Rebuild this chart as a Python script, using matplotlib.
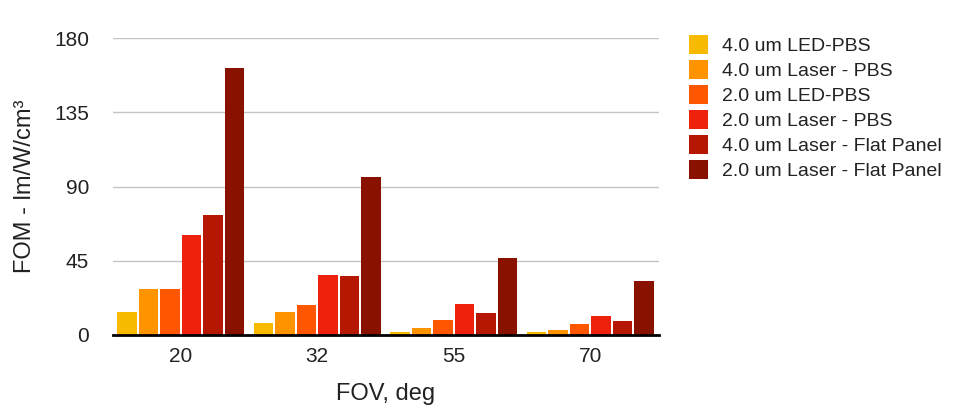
import numpy as np
import matplotlib
matplotlib.use("Agg")
import matplotlib.pyplot as plt

plt.rcParams['font.family'] = ['Liberation Sans', 'DejaVu Sans']

# values
fov = ["20", "32", "55", "70"]
series = [
    "4.0 um LED-PBS",
    "4.0 um Laser - PBS",
    "2.0 um LED-PBS",
    "2.0 um Laser - PBS",
    "4.0 um Laser - Flat Panel",
    "2.0 um Laser - Flat Panel",
]
led_pbs_4 = [14, 7, 2, 2]
laser_pbs_4 = [28, 14, 4.3, 3.3]
led_pbs_2 = [28, 18, 9.2, 6.8]
laser_pbs_2 = [60.5, 36.5, 18.5, 11.8]
laser_flat_4 = [73, 35.5, 13.5, 8.2]
laser_flat_2 = [162, 96, 46.6, 32.5]
yticks = [0, 45, 90, 135, 180]

colors = ['#F8BA00', '#FF9300', '#FF5600', '#EE220C', '#B51700', '#891100']

values = [led_pbs_4, laser_pbs_4, led_pbs_2, laser_pbs_2, laser_flat_4, laser_flat_2]

fig = plt.figure(figsize=(9.58, 4.16), dpi=100)
ax = fig.add_axes([112.5 / 958, 1 - 335 / 416, (658.5 - 112.5) / 958, (335 - 38) / 416])

x = np.arange(len(fov))
step = 0.1575
bw = 0.144
for i, (name, vals) in enumerate(zip(series, values)):
    off = (i - 2.5) * step
    ax.bar(x + off, vals, width=bw, color=colors[i], label=name, zorder=3)

ax.set_xlim(-0.5, 3.5)
ax.set_ylim(0, 180)
ax.set_yticks(yticks)
ax.set_xticks(x)
ax.set_xticklabels(fov)
ax.grid(axis='y', color='#c4c4c4', linewidth=1.0, zorder=0)
ax.set_axisbelow(True)

for s in ['left', 'right', 'top']:
    ax.spines[s].set_visible(False)
ax.spines['bottom'].set_color('black')
ax.spines['bottom'].set_linewidth(2.0)
ax.spines['bottom'].set_zorder(5)

ax.tick_params(axis='both', length=0, labelsize=15, colors='#222222')
ax.tick_params(axis='y', pad=17)
ax.tick_params(axis='x', pad=9)

ax.set_ylabel("FOM - lm/W/cm³", fontsize=17, color='#222222', labelpad=13)
ax.set_xlabel("FOV, deg", fontsize=17, color='#222222', labelpad=12)

fig.legend(loc='upper left', bbox_to_anchor=(689 / 958, 1 - 35 / 416),
           frameon=False, fontsize=14, handlelength=1.0, handleheight=1.15,
           labelspacing=0.24, handletextpad=0.72, borderpad=0, borderaxespad=0,
           labelcolor='#222222')

fig.savefig("out.png", dpi=100)
